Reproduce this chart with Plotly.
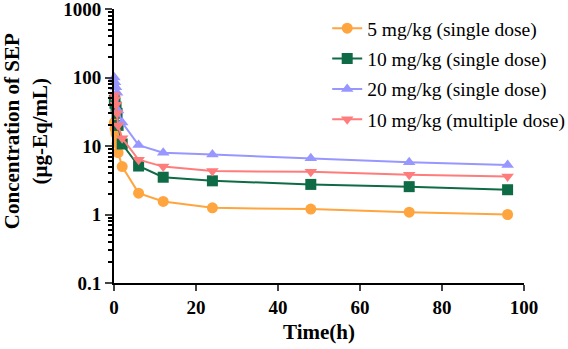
import plotly.graph_objects as go

# Sampling times (h)
time_h = [0.083, 0.25, 0.5, 0.75, 1, 2, 6, 12, 24, 48, 72, 96]

# Mean concentrations (µg-Eq/mL)
dose5_single = [22, 18, 15, 11, 8, 5, 2.05, 1.55, 1.25, 1.2, 1.08, 1.0]
dose10_single = [46, 42, 37, 30, 20, 10.7, 5.1, 3.5, 3.1, 2.75, 2.55, 2.3]
dose20_single = [100, 85, 72, 60, 33, 22, 10.3, 8.0, 7.5, 6.6, 5.8, 5.3]
dose10_multiple = [55, 48, 40, 30, 20, 13, 6.3, 5.0, 4.3, 4.2, 3.8, 3.6]

series_names = [
    "5 mg/kg (single dose)",
    "10 mg/kg (single dose)",
    "20 mg/kg (single dose)",
    "10 mg/kg (multiple dose)",
]
series_values = [dose5_single, dose10_single, dose20_single, dose10_multiple]
series_colors = ["#FFA53F", "#0E6B45", "#9797FF", "#FF7C7C"]
series_symbols = ["circle", "square", "triangle-up", "triangle-down"]

x_ticks = [0, 20, 40, 60, 80, 100]
y_ticks = [0.1, 1, 10, 100, 1000]
y_tick_text = ["0.1", "1", "10", "100", "1000"]

FONT = "Liberation Serif, serif"

fig = go.Figure()
for i, (name, vals, col, sym) in enumerate(
    zip(series_names, series_values, series_colors, series_symbols)
):
    fig.add_trace(
        go.Scatter(
            x=time_h,
            y=vals,
            name=name,
            mode="lines+markers",
            line=dict(color=col, width=2),
            marker=dict(symbol=sym, size=11, color=col),
            cliponaxis=False,
            legendgroup=f"g{i}",
        )
    )

# Minor ticks between decades
minor_vals = [m * 10 ** e for e in range(-1, 3) for m in range(2, 10)]

# Y-axis title, placed beside the tick labels
fig.add_annotation(
    text="<b>Concentration of SEP<br>(μg-Eq/mL)</b>",
    textangle=-90,
    xref="paper",
    yref="paper",
    x=-0.214,
    y=0.555,
    xanchor="center",
    yanchor="middle",
    showarrow=False,
    font=dict(family=FONT, size=21, color="black"),
)

fig.update_layout(
    width=568,
    height=349,
    margin=dict(l=114, r=44, t=9, b=66, autoexpand=False),
    paper_bgcolor="white",
    plot_bgcolor="white",
    font=dict(family=FONT, color="black"),
    showlegend=True,
    legend=dict(
        x=0.52,
        y=1.0,
        xanchor="left",
        yanchor="top",
        font=dict(family=FONT, size=19.5, color="black"),
        bgcolor="rgba(0,0,0,0)",
        tracegroupgap=2,
        itemwidth=30,
    ),
    xaxis=dict(
        range=[0, 100],
        tickvals=x_ticks,
        ticktext=[f"<b>{v}</b>" for v in x_ticks],
        ticks="outside",
        ticklen=6,
        tickwidth=2,
        showline=True,
        linewidth=2,
        linecolor="black",
        showgrid=False,
        zeroline=False,
        automargin=False,
        ticklabeloverflow="allow",
        tickfont=dict(family=FONT, size=19, color="black"),
        title=dict(
            text="<b>Time(h)</b>",
            font=dict(family=FONT, size=21, color="black"),
            standoff=8,
        ),
    ),
    yaxis=dict(
        type="log",
        range=[-1, 3],
        tickvals=y_ticks,
        ticktext=[f"<b>{t}</b>" for t in y_tick_text],
        ticks="outside",
        ticklen=7,
        tickwidth=2,
        showline=True,
        linewidth=2,
        linecolor="black",
        showgrid=False,
        zeroline=False,
        automargin=False,
        ticklabeloverflow="allow",
        tickfont=dict(family=FONT, size=19, color="black"),
        minor=dict(tickvals=minor_vals, ticks="outside", ticklen=4, tickwidth=1.5, tickcolor="black", showgrid=False),
    ),
)

fig.write_html("out.html")
